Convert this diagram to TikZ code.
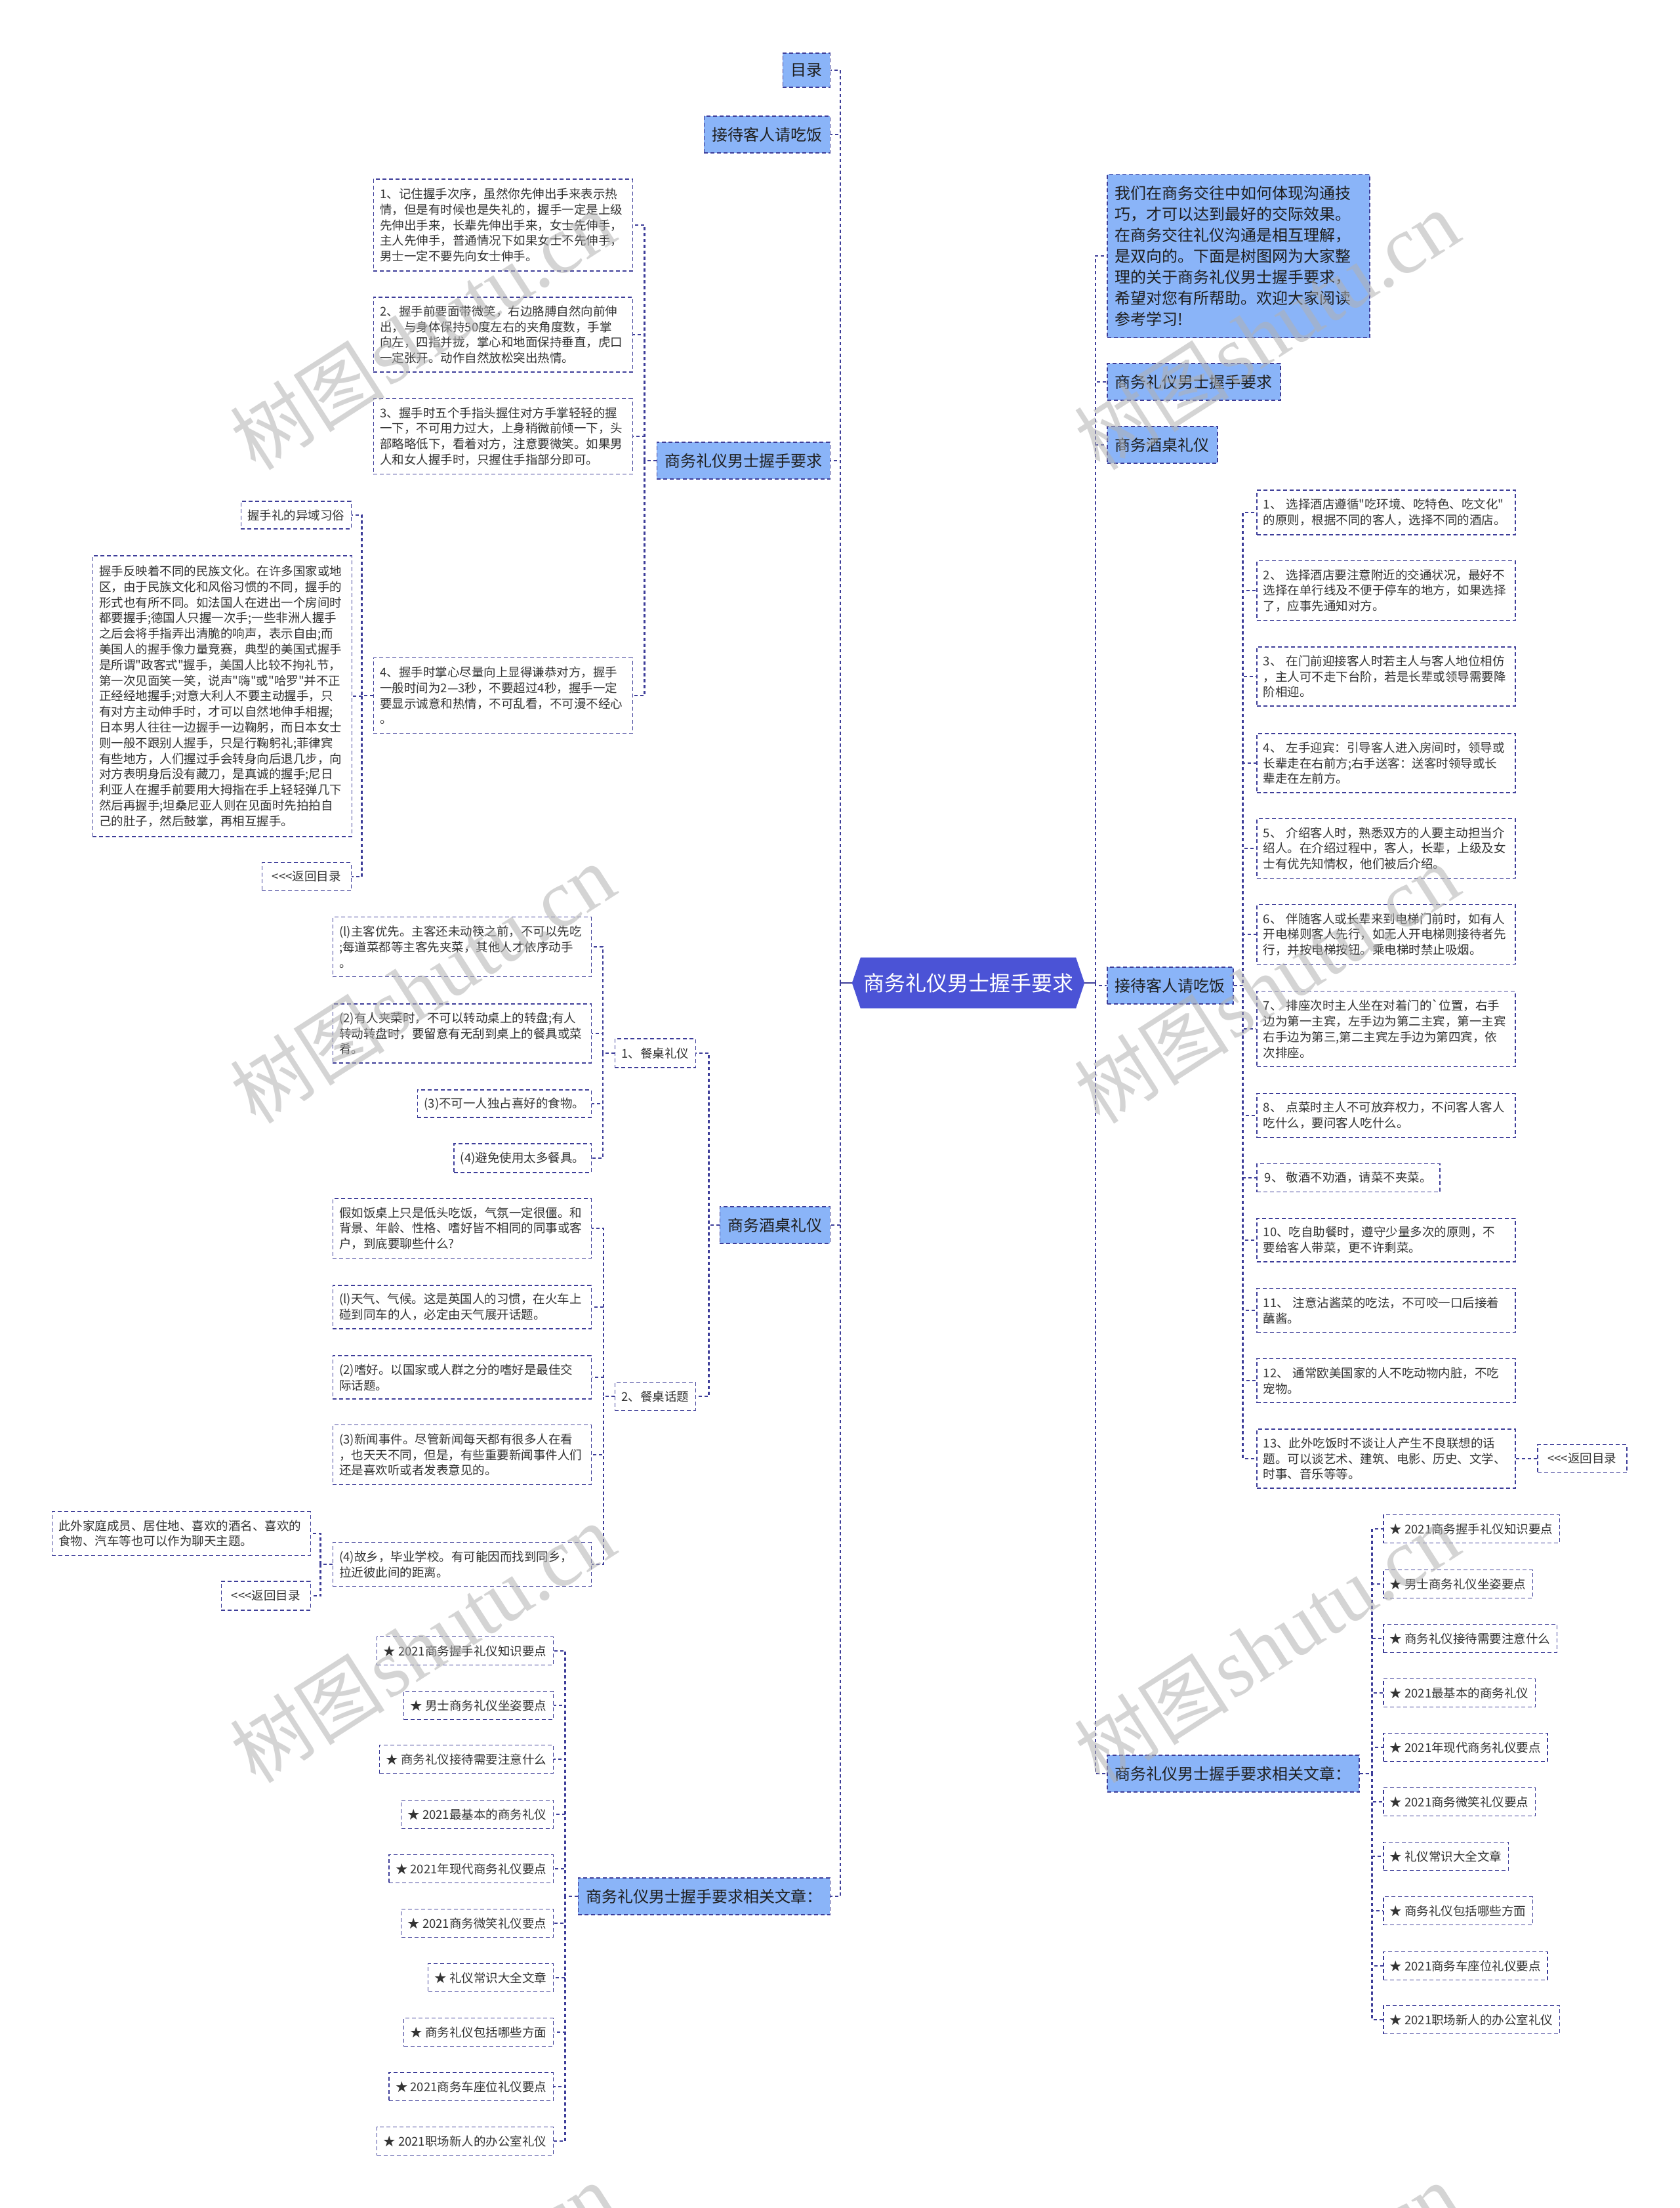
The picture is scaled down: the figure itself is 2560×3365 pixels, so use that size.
\documentclass[tikz,border=0pt]{standalone}
\usepackage{fontspec}
\newfontfamily\cjk{Noto Sans CJK SC}
\newfontfamily\wmlat{Liberation Serif}
\usetikzlibrary{calc}
\definecolor{navy}{HTML}{3D3D99}
\definecolor{lblue}{HTML}{8AB4F8}
\definecolor{rootc}{HTML}{4B53D6}
\definecolor{txt}{HTML}{333333}
\pgfdeclarelayer{background}
\pgfsetlayers{background,main}
\tikzset{
  conn/.style={draw=navy, line width=2.1pt, dash pattern=on 5pt off 4pt},
  solidconn/.style={draw=navy, line width=2.4pt},
  mainbox/.style={draw=navy, fill=lblue, line width=1.5pt, dash pattern=on 6pt off 4pt,
    font=\cjk\fontsize{24}{32}\selectfont, text=black!88, inner xsep=12pt, inner ysep=0pt,
    minimum height=56pt, align=left},
  dbox/.style={draw=navy, fill=white, line width=1.5pt, dash pattern=on 6pt off 4pt,
    font=\cjk\fontsize{18.5}{23.8}\selectfont, text=txt, inner xsep=10pt, inner ysep=0pt,
    align=left},
  wbox/.style={dbox, text width=374pt},
  lbox/.style={dbox, minimum height=43pt},
  wmark/.style={rotate=32.7, text=black!30, opacity=0.55, inner sep=0pt},
}
\begin{document}
\begin{tikzpicture}[x=1pt,y=-1pt]
\begin{pgfonlayer}{background}
\fill[white] (0,0) rectangle (2560,3365);
\end{pgfonlayer}
\useasboundingbox (0,0) rectangle (2560,3365);

% ---------- root ----------
\node[font=\cjk\fontsize{32}{38}\selectfont, text=white, minimum width=354pt, minimum height=77pt, inner sep=0pt] (root) at (1476,1498) {商务礼仪男士握手要求};
\begin{pgfonlayer}{background}
\fill[rootc] ($(root.north west)+(13,0)$) -- ($(root.north east)+(-13,0)$) -- (root.east) -- ($(root.south east)+(-13,0)$) -- ($(root.south west)+(13,0)$) -- (root.west) -- cycle;
\end{pgfonlayer}
\coordinate (lsp) at (1281,1498);
\coordinate (rsp) at (1670,1498);

% ---------- left main ----------
\node[mainbox, anchor=east, minimum height=52pt] (ml) at (1266,107) {目录};
\node[mainbox, anchor=east] (ljd) at (1266,205) {接待客人请吃饭};
\node[mainbox, anchor=east] (lhand) at (1266,702) {商务礼仪男士握手要求};
\node[mainbox, anchor=east] (ljz) at (1266,1867) {商务酒桌礼仪};
\node[mainbox, anchor=east] (lrel) at (1266,2890) {商务礼仪男士握手要求相关文章：};

% ---------- right main ----------
\node[mainbox, anchor=west, text width=376pt, minimum height=249pt] (rintro) at (1687,390) {我们在商务交往中如何体现沟通技\\巧，才可以达到最好的交际效果。\\在商务交往礼仪沟通是相互理解，\\是双向的。下面是树图网为大家整\\理的关于商务礼仪男士握手要求，\\希望对您有所帮助。欢迎大家阅读\\参考学习!};
\node[mainbox, anchor=west] (rhand) at (1687,582) {商务礼仪男士握手要求};
\node[mainbox, anchor=west] (rjzl) at (1687,678) {商务酒桌礼仪};
\node[mainbox, anchor=west] (rjd) at (1687,1502) {接待客人请吃饭};
\node[mainbox, anchor=west] (rrel) at (1687,2703) {商务礼仪男士握手要求相关文章：};

\draw[solidconn] (root.west) -- (lsp);
\draw[solidconn] (root.east) -- (rsp);
\foreach \n in {ml,ljd,lhand,ljz,lrel} \draw[conn] (lsp) |- (\n.east);
\foreach \n in {rintro,rhand,rjzl,rjd,rrel} \draw[conn] (rsp) |- (\n.west);

% ---------- left: handshake ----------
\node[dbox, anchor=east, text width=375pt, minimum height=140pt] (h1) at (965,343) {1、记住握手次序，虽然你先伸出手来表示热\\情，但是有时候也是失礼的，握手一定是上级\\先伸出手来，长辈先伸出手来，女士先伸手，\\主人先伸手，普通情况下如果女士不先伸手，\\男士一定不要先向女士伸手。};
\node[dbox, anchor=east, text width=375pt, minimum height=114pt] (h2) at (965,510) {2、握手前要面带微笑，右边胳膊自然向前伸\\出，与身体保持50度左右的夹角度数，手掌\\向左，四指并拢，掌心和地面保持垂直，虎口\\一定张开。动作自然放松突出热情。};
\node[dbox, anchor=east, text width=375pt, minimum height=115pt] (h3) at (965,665) {3、握手时五个手指头握住对方手掌轻轻的握\\一下，不可用力过大，上身稍微前倾一下，头\\部略略低下，看着对方，注意要微笑。如果男\\人和女人握手时，只握住手指部分即可。};
\node[dbox, anchor=east, text width=375pt, minimum height=115pt] (h4) at (965,1060) {4、握手时掌心尽量向上显得谦恭对方，握手\\一般时间为2—3秒，不要超过4秒，握手一定\\要显示诚意和热情，不可乱看，不可漫不经心\\。};
\foreach \n in {h1,h2,h3,h4} \draw[conn] (lhand.west) -- ++(-18,0) |- (\n.east);

\node[dbox, anchor=east, minimum height=42pt] (yu) at (536,785) {握手礼的异域习俗};
\node[dbox, anchor=east, text width=375pt, minimum height=428pt] (bigt) at (537,1061) {握手反映着不同的民族文化。在许多国家或地\\区，由于民族文化和风俗习惯的不同，握手的\\形式也有所不同。如法国人在进出一个房间时\\都要握手;德国人只握一次手;一些非洲人握手\\之后会将手指弄出清脆的响声，表示自由;而\\美国人的握手像力量竞赛，典型的美国式握手\\是所谓"政客式"握手，美国人比较不拘礼节，\\第一次见面笑一笑，说声"嗨"或"哈罗"并不正\\正经经地握手;对意大利人不要主动握手，只\\有对方主动伸手时，才可以自然地伸手相握;\\日本男人往往一边握手一边鞠躬，而日本女士\\则一般不跟别人握手，只是行鞠躬礼;菲律宾\\有些地方，人们握过手会转身向后退几步，向\\对方表明身后没有藏刀，是真诚的握手;尼日\\利亚人在握手前要用大拇指在手上轻轻弹几下\\然后再握手;坦桑尼亚人则在见面时先拍拍自\\己的肚子，然后鼓掌，再相互握手。};
\node[dbox, anchor=east, minimum height=43pt, minimum width=136pt] (ret1) at (536,1336) {<<<返回目录};
\foreach \n in {yu,bigt,ret1} \draw[conn] (h4.west) -- ++(-17,0) |- (\n.east);

% ---------- left: dining table ----------
\node[dbox, anchor=east, minimum height=44pt] (ct1) at (1061,1605) {1、餐桌礼仪};
\node[dbox, anchor=east, minimum height=43pt] (ct2) at (1061,2128) {2、餐桌话题};
\foreach \n in {ct1,ct2} \draw[conn] (ljz.west) -- ++(-16,0) |- (\n.east);

\node[dbox, anchor=east, text width=374pt, minimum height=91pt] (ca1) at (902,1443) {(l)主客优先。主客还未动筷之前，不可以先吃\\;每道菜都等主客先夹菜，其他人才依序动手\\。};
\node[dbox, anchor=east, text width=374pt, minimum height=90pt] (ca2) at (902,1575) {(2)有人夹菜时，不可以转动桌上的转盘;有人\\转动转盘时，要留意有无刮到桌上的餐具或菜\\肴。};
\node[dbox, anchor=east, minimum height=42pt] (ca3) at (902,1682) {(3)不可一人独占喜好的食物。};
\node[dbox, anchor=east, minimum height=44pt] (ca4) at (902,1765) {(4)避免使用太多餐具。};
\foreach \n in {ca1,ca2,ca3,ca4} \draw[conn] (ct1.west) -- ++(-18,0) |- (\n.east);

\node[dbox, anchor=east, text width=374pt, minimum height=91pt] (cb1) at (902,1872) {假如饭桌上只是低头吃饭，气氛一定很僵。和\\背景、年龄、性格、嗜好皆不相同的同事或客\\户，到底要聊些什么?};
\node[dbox, anchor=east, text width=374pt, minimum height=66pt] (cb2) at (902,1992) {(l)天气、气候。这是英国人的习惯，在火车上\\碰到同车的人，必定由天气展开话题。};
\node[dbox, anchor=east, text width=374pt, minimum height=66pt] (cb3) at (902,2099) {(2)嗜好。以国家或人群之分的嗜好是最佳交\\际话题。};
\node[dbox, anchor=east, text width=374pt, minimum height=91pt] (cb4) at (902,2217) {(3)新闻事件。尽管新闻每天都有很多人在看\\，也天天不同，但是，有些重要新闻事件人们\\还是喜欢听或者发表意见的。};
\node[dbox, anchor=east, text width=374pt, minimum height=67pt] (cb5) at (902,2384) {(4)故乡，毕业学校。有可能因而找到同乡，\\拉近彼此间的距离。};
\foreach \n in {cb1,cb2,cb3,cb4,cb5} \draw[conn] (ct2.west) -- ++(-17,0) |- (\n.east);

\node[dbox, anchor=east, text width=374pt, minimum height=67pt] (cc1) at (474,2337) {此外家庭成员、居住地、喜欢的酒名、喜欢的\\食物、汽车等也可以作为聊天主题。};
\node[dbox, anchor=east, minimum height=44pt, minimum width=136pt] (ret2) at (474,2432) {<<<返回目录};
\foreach \n in {cc1,ret2} \draw[conn] (cb5.west) -- ++(-18,0) |- (\n.east);

% ---------- left: related articles ----------
\node[lbox, anchor=east] (la1) at (844,2516) {★ 2021商务握手礼仪知识要点};
\node[lbox, anchor=east] (la2) at (844,2599) {★ 男士商务礼仪坐姿要点};
\node[lbox, anchor=east] (la3) at (844,2681) {★ 商务礼仪接待需要注意什么};
\node[lbox, anchor=east] (la4) at (844,2765) {★ 2021最基本的商务礼仪};
\node[lbox, anchor=east] (la5) at (844,2848) {★ 2021年现代商务礼仪要点};
\node[lbox, anchor=east] (la6) at (844,2931) {★ 2021商务微笑礼仪要点};
\node[lbox, anchor=east] (la7) at (844,3014) {★ 礼仪常识大全文章};
\node[lbox, anchor=east] (la8) at (844,3097) {★ 商务礼仪包括哪些方面};
\node[lbox, anchor=east] (la9) at (844,3180) {★ 2021商务车座位礼仪要点};
\node[lbox, anchor=east] (la10) at (844,3263) {★ 2021职场新人的办公室礼仪};
\foreach \n in {la1,la2,la3,la4,la5,la6,la7,la8,la9,la10} \draw[conn] (lrel.west) -- ++(-19,0) |- (\n.east);

% ---------- right: reception ----------
\node[wbox, anchor=west, minimum height=68pt] (i1) at (1915,781) {1、 选择酒店遵循"吃环境、吃特色、吃文化"\\的原则，根据不同的客人，选择不同的酒店。};
\node[wbox, anchor=west, minimum height=91pt] (i2) at (1915,900) {2、 选择酒店要注意附近的交通状况，最好不\\选择在单行线及不便于停车的地方，如果选择\\了，应事先通知对方。};
\node[wbox, anchor=west, minimum height=90pt] (i3) at (1915,1031) {3、 在门前迎接客人时若主人与客人地位相仿\\，主人可不走下台阶，若是长辈或领导需要降\\阶相迎。};
\node[wbox, anchor=west, minimum height=90pt] (i4) at (1915,1163) {4、 左手迎宾：引导客人进入房间时，领导或\\长辈走在右前方;右手送客：送客时领导或长\\辈走在左前方。};
\node[wbox, anchor=west, minimum height=91pt] (i5) at (1915,1293) {5、 介绍客人时，熟悉双方的人要主动担当介\\绍人。在介绍过程中，客人，长辈，上级及女\\士有优先知情权，他们被后介绍。};
\node[wbox, anchor=west, minimum height=91pt] (i6) at (1915,1424) {6、 伴随客人或长辈来到电梯门前时，如有人\\开电梯则客人先行，如无人开电梯则接待者先\\行，并按电梯按钮。乘电梯时禁止吸烟。};
\node[wbox, anchor=west, minimum height=115pt] (i7) at (1915,1568) {7、 排座次时主人坐在对着门的`位置，右手\\边为第一主宾，左手边为第二主宾，第一主宾\\右手边为第三,第二主宾左手边为第四宾，依\\次排座。};
\node[wbox, anchor=west, minimum height=67pt] (i8) at (1915,1700) {8、 点菜时主人不可放弃权力，不问客人客人\\吃什么，要问客人吃什么。};
\node[dbox, anchor=west, minimum height=43pt, minimum width=279pt] (i9) at (1915,1795) {9、 敬酒不劝酒，请菜不夹菜。};
\node[wbox, anchor=west, minimum height=66pt] (i10) at (1915,1890) {10、吃自助餐时，遵守少量多次的原则，不\\要给客人带菜，更不许剩菜。};
\node[wbox, anchor=west, minimum height=67pt] (i11) at (1915,1997) {11、 注意沾酱菜的吃法，不可咬一口后接着\\蘸酱。};
\node[wbox, anchor=west, minimum height=67pt] (i12) at (1915,2104) {12、 通常欧美国家的人不吃动物内脏，不吃\\宠物。};
\node[wbox, anchor=west, minimum height=90pt] (i13) at (1915,2223) {13、此外吃饭时不谈让人产生不良联想的话\\题。可以谈艺术、建筑、电影、历史、文学、\\时事、音乐等等。};
\foreach \n in {i1,i2,i3,i4,i5,i6,i7,i8,i9,i10,i11,i12,i13} \draw[conn] (rjd.east) -- ++(14,0) |- (\n.west);
\node[dbox, anchor=west, minimum height=43pt, minimum width=136pt] (ret3) at (2343,2223) {<<<返回目录};
\draw[conn] (i13.east) -- (ret3.west);

% ---------- right: related articles ----------
\node[lbox, anchor=west] (ra1) at (2108,2330) {★ 2021商务握手礼仪知识要点};
\node[lbox, anchor=west] (ra2) at (2108,2414) {★ 男士商务礼仪坐姿要点};
\node[lbox, anchor=west] (ra3) at (2108,2497) {★ 商务礼仪接待需要注意什么};
\node[lbox, anchor=west] (ra4) at (2108,2580) {★ 2021最基本的商务礼仪};
\node[lbox, anchor=west] (ra5) at (2108,2663) {★ 2021年现代商务礼仪要点};
\node[lbox, anchor=west] (ra6) at (2108,2746) {★ 2021商务微笑礼仪要点};
\node[lbox, anchor=west] (ra7) at (2108,2829) {★ 礼仪常识大全文章};
\node[lbox, anchor=west] (ra8) at (2108,2912) {★ 商务礼仪包括哪些方面};
\node[lbox, anchor=west] (ra9) at (2108,2996) {★ 2021商务车座位礼仪要点};
\node[lbox, anchor=west] (ra10) at (2108,3078) {★ 2021职场新人的办公室礼仪};
\foreach \n in {ra1,ra2,ra3,ra4,ra5,ra6,ra7,ra8,ra9,ra10} \draw[conn] (rrel.east) -- ++(19,0) |- (\n.west);

% ---------- watermarks ----------
\foreach \wx/\wy [count=\k] in {644/504, 644/1500, 644/2505, 644/3510, 1931/504, 1931/1500, 1931/2505, 1931/3510}
  \node[wmark] (wm\k) at (\wx,\wy) {{\cjk\fontsize{118}{130}\selectfont 树图} {\wmlat\fontsize{125}{130}\selectfont shutu.cn}};
\end{tikzpicture}
\end{document}
